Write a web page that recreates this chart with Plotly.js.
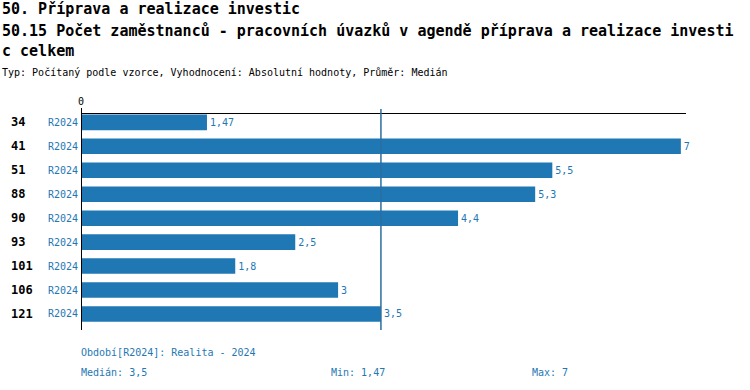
<!DOCTYPE html>
<html>
<head>
<meta charset="utf-8">
<script src="https://cdn.plot.ly/plotly-3.0.1.min.js"></script>
<style>html,body{margin:0;padding:0;background:#fff;}#chart{width:750px;height:390px;}</style>
</head>
<body>
<div id="chart"></div>
<script>
const categories = ["34", "41", "51", "88", "90", "93", "101", "106", "121"];
const periods = ["R2024", "R2024", "R2024", "R2024", "R2024", "R2024", "R2024", "R2024", "R2024"];
const values = [1.47, 7, 5.5, 5.3, 4.4, 2.5, 1.8, 3, 3.5];
const medianValue = 3.5;
const minValue = 1.47;
const maxValue = 7;
const titleLine1 = "50. Příprava a realizace investic";
const titleLine2 = "50.15 Počet zaměstnanců - pracovních úvazků v agendě příprava a realizace investi";
const titleLine3 = "c celkem";
const subtitle = "Typ: Počítaný podle vzorce, Vyhodnocení: Absolutní hodnoty, Průměr: Medián";
const periodNote = "Období[R2024]: Realita - 2024";

const W = 750, H = 390;
const M = {l: 81, r: 64, t: 114, b: 60};
const PW = W - M.l - M.r, PH = H - M.t - M.b;
const px = x => (x - M.l) / PW;
const py = y => (H - M.b - y) / PH;
const fmt = v => String(v).replace('.', ',');
const mono = "DejaVu Sans Mono, Liberation Mono, monospace";
const blue = "#1f77b4";
const idx = categories.map((c, i) => i);

const trace = {
  type: "bar",
  orientation: "h",
  y: idx,
  x: values,
  width: 0.65,
  marker: {color: blue},
  text: values.map(fmt),
  textposition: "outside",
  textfont: {family: mono, size: 10, color: blue},
  cliponaxis: false,
  hoverinfo: "none"
};

const annotations = [];
function txt(text, x, y, size, color, bold, anchor) {
  annotations.push({
    text: bold ? "<b>" + text + "</b>" : text,
    xref: "paper", yref: "paper", x: px(x), y: py(y),
    xanchor: anchor || "left", yanchor: "middle", showarrow: false,
    font: {family: mono, size: size, color: color}
  });
}
txt(titleLine1, 0, 9, 15, "#000", true);
txt(titleLine2, 0, 31, 15, "#000", true);
txt(titleLine3, 0, 51, 15, "#000", true);
txt(subtitle, 0, 73, 10, "#000", false);
txt(periodNote, 79, 352, 10, blue, false);
txt("Medián: " + fmt(medianValue), 79, 372, 10, blue, false);
txt("Min: " + fmt(minValue), 329, 372, 10, blue, false);
txt("Max: " + fmt(maxValue), 530, 372, 10, blue, false);
categories.forEach((c, i) => {
  annotations.push({
    text: "<b>" + c + "</b>", xref: "paper", yref: "y", x: px(9), y: i,
    xanchor: "left", yanchor: "middle", showarrow: false,
    font: {family: mono, size: 12, color: "#000"}
  });
});

const layout = {
  width: W, height: H,
  margin: M,
  paper_bgcolor: "#fff", plot_bgcolor: "#fff",
  showlegend: false,
  font: {family: mono, size: 10, color: "#000"},
  xaxis: {
    side: "top", range: [0, 7.06], showgrid: false, zeroline: false,
    showline: true, linecolor: "#000", linewidth: 1,
    tickvals: [0], ticktext: ["0"], ticks: "", ticklabelstandoff: 4,
    tickfont: {family: mono, size: 10, color: "#000"}
  },
  yaxis: {
    range: [8.67, -0.35], showgrid: false, zeroline: false, showline: false,
    tickvals: idx, ticktext: periods, ticks: "", ticklabelstandoff: 2,
    tickfont: {family: mono, size: 10, color: blue}
  },
  shapes: [
    {type: "line", xref: "x", yref: "paper", x0: 0, x1: 0, y0: py(330), y1: py(108), line: {color: "#000", width: 2}},
    {type: "line", xref: "x", yref: "paper", x0: medianValue, x1: medianValue, y0: py(330), y1: py(109), line: {color: "#2a6ea0", width: 1.5}}
  ],
  annotations: annotations
};

Plotly.newPlot("chart", [trace], layout, {displayModeBar: false, staticPlot: true});
</script>
</body>
</html>
